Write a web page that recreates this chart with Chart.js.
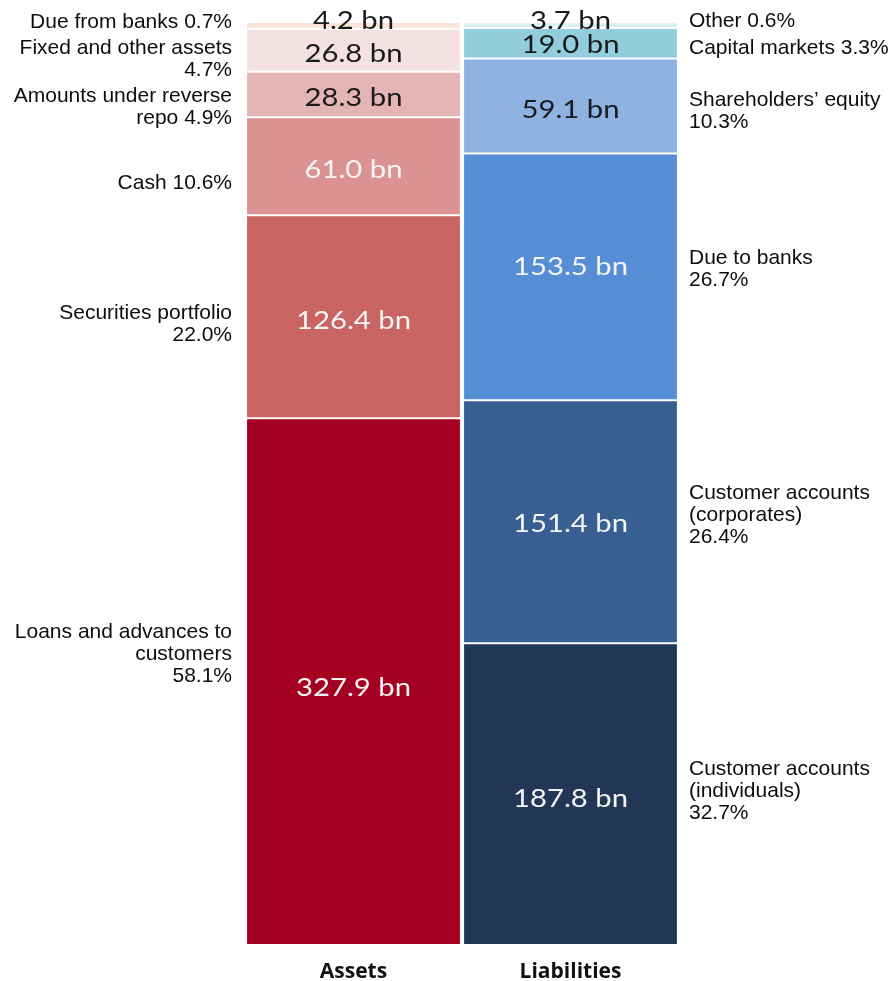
<!DOCTYPE html>
<html>
<head>
<meta charset="utf-8">
<script src="https://cdn.jsdelivr.net/npm/chart.js@4"></script>
<style>
  html, body { margin: 0; padding: 0; background: #fff; }
  #wrap { width: 895px; height: 981px; }
</style>
</head>
<body>
<div id="wrap"><canvas id="balanceChart" width="895" height="981"></canvas></div>
<script>
// categories and segments, bottom to top
const categories = ['Assets', 'Liabilities'];

const assetNames = ['Loans and advances to\ncustomers\n', 'Securities portfolio\n', 'Cash ', 'Amounts under reverse\nrepo ', 'Fixed and other assets\n', 'Due from banks '];
const assetValues = [327.9, 126.4, 61.0, 28.3, 26.8, 4.2];
const assetShares = [58.1, 22.0, 10.6, 4.9, 4.7, 0.7];

const liabilityNames = ['Customer accounts\n(individuals)\n', 'Customer accounts\n(corporates)\n', 'Due to banks\n', 'Shareholders\u2019 equity\n', 'Capital markets ', 'Other '];
const liabilityValues = [187.8, 151.4, 153.5, 59.1, 19.0, 3.7];
const liabilityShares = [32.7, 26.4, 26.7, 10.3, 3.3, 0.6];

// styling
const assetColors = ['#A50021', '#C86462', '#DA9392', '#E5B4B4', '#F4E2E2', '#FCE4D6'];
const liabilityColors = ['#223655', '#375F91', '#558ED5', '#8EB3E3', '#92CDDC', '#DAEEF3'];
const assetTextColors = ['#f4f4f4', '#f4f4f4', '#f4f4f4', '#1a1a1a', '#1a1a1a', '#1a1a1a'];
const liabilityTextColors = ['#f4f4f4', '#f4f4f4', '#f4f4f4', '#1a1a1a', '#1a1a1a', '#1a1a1a'];
// small nudges (px) for the side labels and the in-bar values
const assetLabelShift = [-27, 7, 17, 13, 9, -3];
const liabilityLabelShift = [-3, -7, -8, 5, 5, -4];
const assetValueShift = [6, 4, 4, 3, 4, -4];
const liabilityValueShift = [5, 2, -10, 4, 2, -4];

const datasets = assetValues.map(function(v, i) {
    return {
        label: 'segment ' + i,
        data: [v, liabilityValues[i]],
        backgroundColor: [assetColors[i], liabilityColors[i]],
        borderColor: '#ffffff',
        borderWidth: 1,
        borderSkipped: false,
        barPercentage: 0.99,
        categoryPercentage: 1
    };
});

const segmentLabels = {
    id: 'segmentLabels',
    afterDatasetsDraw(chart) {
        const ctx = chart.ctx;
        chart.data.datasets.forEach(function(ds, i) {
            const meta = chart.getDatasetMeta(i);
            meta.data.forEach(function(bar, j) {
                const mid = (bar.y + bar.base) / 2;
                const value = j === 0 ? assetValues[i] : liabilityValues[i];
                // value inside the bar (slightly widened, like the original)
                ctx.save();
                ctx.font = '25px Lato';
                ctx.fillStyle = j === 0 ? assetTextColors[i] : liabilityTextColors[i];
                ctx.textAlign = 'center';
                ctx.textBaseline = 'middle';
                const vy = mid + (j === 0 ? assetValueShift[i] : liabilityValueShift[i]);
                ctx.translate(bar.x, vy);
                ctx.scale(1.17, 1);
                ctx.fillText(value.toFixed(1) + ' bn', 0, 0);
                ctx.restore();

                // side label
                const text = j === 0
                    ? assetNames[i] + assetShares[i].toFixed(1) + '%'
                    : liabilityNames[i] + liabilityShares[i].toFixed(1) + '%';
                const lines = text.split('\n');
                const lh = 22;
                const shift = j === 0 ? assetLabelShift[i] : liabilityLabelShift[i];
                const top = mid + shift - (lines.length - 1) * lh / 2;
                ctx.save();
                ctx.font = '21px "Liberation Sans", Arial, sans-serif';
                ctx.fillStyle = '#0d0d0d';
                ctx.textBaseline = 'middle';
                if (j === 0) {
                    ctx.textAlign = 'right';
                    lines.forEach(function(l, k) { ctx.fillText(l, 232, top + k * lh); });
                } else {
                    ctx.textAlign = 'left';
                    lines.forEach(function(l, k) { ctx.fillText(l, 689, top + k * lh); });
                }
                ctx.restore();
            });
        });
    }
};

new Chart(document.getElementById('balanceChart'), {
    type: 'bar',
    data: { labels: categories, datasets: datasets },
    options: {
        responsive: false,
        animation: false,
        layout: { padding: { left: 245, right: 216, top: 22, bottom: 0 } },
        plugins: { legend: { display: false }, tooltip: { enabled: false } },
        scales: {
            x: {
                stacked: true,
                grid: { display: false },
                border: { display: false },
                afterFit: function(axis) { axis.height = 36; },
                ticks: {
                    color: '#111',
                    padding: 6,
                    font: { family: 'Open Sans', size: 21, weight: 'bold' }
                }
            },
            y: {
                stacked: true,
                display: false,
                min: 0,
                max: 574.6
            }
        }
    },
    plugins: [segmentLabels]
});
</script>
</body>
</html>
